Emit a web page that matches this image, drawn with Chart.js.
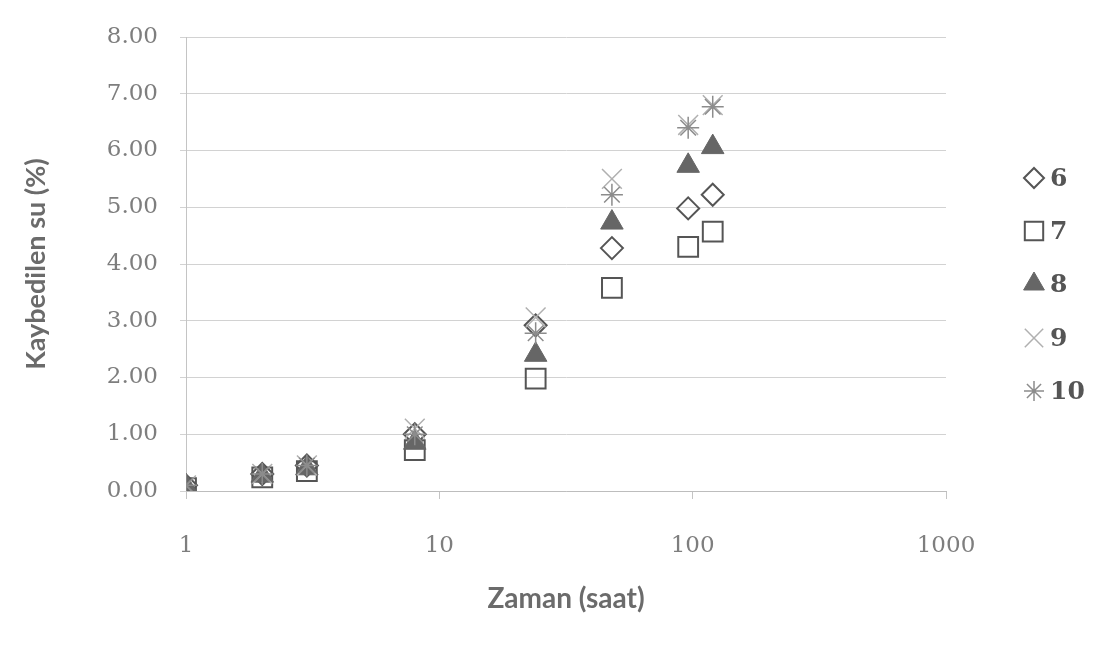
<!DOCTYPE html>
<html>
<head>
<meta charset="utf-8">
<script src="https://cdn.jsdelivr.net/npm/chart.js@4/dist/chart.umd.min.js"></script>
<style>
  html, body { margin: 0; padding: 0; background: #ffffff; }
  #wrap { width: 1107px; height: 655px; position: relative; }
  canvas { display: block; }
</style>
</head>
<body>
<div id="wrap"><canvas id="c" width="1107" height="655"></canvas></div>
<script>
// ---- data ----
const times = [1, 2, 3, 8, 24, 48, 96, 120];
const seriesNames = ['6', '7', '8', '9', '10'];
const s6  = [0.10, 0.30, 0.45, 1.00, 2.92, 4.28, 4.98, 5.22];
const s7  = [0.05, 0.24, 0.35, 0.72, 1.98, 3.58, 4.30, 4.57];
const s8  = [0.08, 0.27, 0.40, 0.85, 2.40, 4.73, 5.73, 6.06];
const s9  = [0.10, 0.30, 0.45, 1.10, 3.06, 5.50, 6.45, 6.80];
const s10 = [0.10, 0.30, 0.45, 1.00, 2.78, 5.22, 6.40, 6.77];
const yTicks = [0, 1, 2, 3, 4, 5, 6, 7, 8];
const xTicks = [1, 10, 100, 1000];

const styles = [
  { pointStyle: 'rectRot',  radius: 11, border: '#555555', fill: 'rgba(255,255,255,0)', bw: 2 },
  { pointStyle: 'rect',     radius: 14, border: '#555555', fill: 'rgba(255,255,255,0)', bw: 2 },
  { pointStyle: 'triangle', radius: 13, border: '#666666', fill: '#666666', bw: 1 },
  { pointStyle: 'crossRot', radius: 14, border: '#b0b0b0', fill: '#b0b0b0', bw: 1.5 },
  { pointStyle: 'star',     radius: 11, border: '#8c8c8c', fill: '#8c8c8c', bw: 1.5 }
];
const allSeries = [s6, s7, s8, s9, s10];

const datasets = allSeries.map((vals, i) => ({
  label: seriesNames[i],
  data: times.map((t, j) => ({ x: t, y: vals[j] })),
  showLine: false,
  pointStyle: styles[i].pointStyle,
  pointRadius: styles[i].radius,
  pointHoverRadius: styles[i].radius,
  borderColor: styles[i].border,
  backgroundColor: styles[i].fill,
  pointBorderWidth: styles[i].bw,
  order: allSeries.length - i
}));

const legendPlugin = {
  id: 'customLegend',
  afterDraw(chart) {
    const ctx = chart.ctx;
    const ys = [178, 231, 284, 338, 391];
    const sizes = [10, 13, 12, 13, 10];
    ctx.save();
    seriesNames.forEach((name, i) => {
      const st = styles[i];
      const x = 1034, y = ys[i];
      ctx.strokeStyle = st.border;
      ctx.fillStyle = st.fill;
      ctx.lineWidth = st.bw;
      Chart.helpers.drawPoint(ctx, { pointStyle: st.pointStyle, radius: sizes[i], rotation: 0, borderWidth: st.bw }, x, y);
      ctx.fillStyle = '#555555';
      ctx.font = 'bold 25px "DejaVu Serif"';
      ctx.textAlign = 'left';
      ctx.textBaseline = 'middle';
      ctx.fillText(name, 1050, y + 1);
    });
    ctx.restore();
  }
};

new Chart(document.getElementById('c'), {
  type: 'scatter',
  data: { datasets },
  plugins: [legendPlugin],
  options: {
    responsive: false,
    animation: false,
    events: [],
    layout: { padding: { top: 37, right: 161, bottom: 18, left: 0 } },
    plugins: { legend: { display: false }, tooltip: { enabled: false } },
    scales: {
      x: {
        type: 'logarithmic',
        min: 1,
        max: 1000,
        afterBuildTicks(axis) { axis.ticks = xTicks.map(v => ({ value: v, major: true })); },
        afterFit(axis) { axis.height = 655 - 491 - 18; },
        border: { display: true, color: '#bdbdbd', width: 1 },
        grid: { drawOnChartArea: false, drawTicks: true, tickLength: 8, color: '#c4c4c4' },
        ticks: {
          autoSkip: false,
          maxRotation: 0,
          padding: 33,
          color: '#7e7e7e',
          font: { family: '"DejaVu Serif"', size: 23 },
          callback: (v) => String(v)
        },
        title: {
          display: true,
          text: 'Zaman (saat)',
          color: '#6b6b6b',
          font: { family: 'Lato', size: 28, weight: 'bold' },
          padding: { top: 0, bottom: 21 }
        }
      },
      y: {
        type: 'linear',
        min: 0,
        max: 8,
        afterBuildTicks(axis) { axis.ticks = yTicks.map(v => ({ value: v })); },
        afterFit(axis) { axis.width = 186; },
        border: { display: true, color: '#c4c4c4', width: 1 },
        grid: { color: '#d2d2d2', lineWidth: 1, drawTicks: true, tickLength: 6 },
        ticks: {
          padding: 22,
          color: '#7e7e7e',
          font: { family: '"DejaVu Serif"', size: 23 },
          callback: (v) => Number(v).toFixed(2)
        },
        title: {
          display: true,
          text: 'Kaybedilen su (%)',
          color: '#6b6b6b',
          font: { family: 'Lato', size: 27, weight: 'bold' },
          padding: { top: 20, bottom: 0 }
        }
      }
    }
  }
});
</script>
</body>
</html>
